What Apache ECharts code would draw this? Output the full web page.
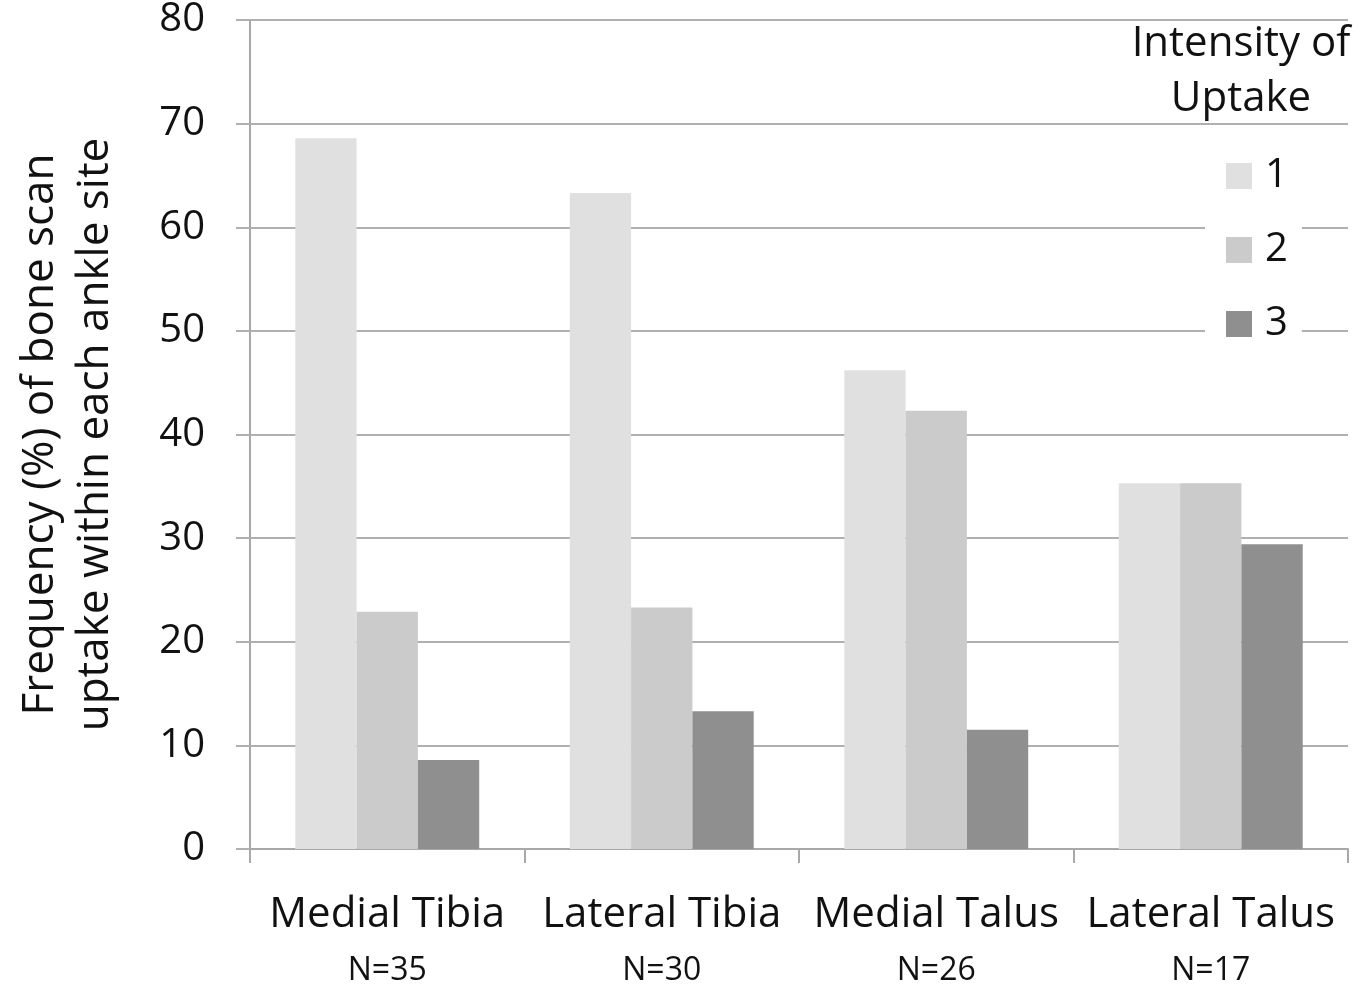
<!DOCTYPE html>
<html>
<head>
<meta charset="utf-8">
<script src="https://cdn.jsdelivr.net/npm/echarts@6/dist/echarts.min.js"></script>
<style>html,body{margin:0;padding:0;background:#fff;}#c{width:1371px;height:992px;}</style>
</head>
<body>
<div id="c"></div>
<script>
const sites = ['Medial Tibia', 'Lateral Tibia', 'Medial Talus', 'Lateral Talus'];
const sampleSizes = ['N=35', 'N=30', 'N=26', 'N=17'];
const seriesNames = ['1', '2', '3'];
const intensity1 = [68.6, 63.3, 46.2, 35.3];
const intensity2 = [22.9, 23.3, 42.3, 35.3];
const intensity3 = [8.6, 13.3, 11.5, 29.4];
const yTicks = [0, 10, 20, 30, 40, 50, 60, 70, 80];

const FONT = '"Open Sans", "Liberation Sans", sans-serif';
const colors = ['#e0e0e0', '#cbcbcb', '#8f8f8f'];
const values = [intensity1, intensity2, intensity3];

const chart = echarts.init(document.getElementById('c'));
chart.setOption({
  animation: false,
  backgroundColor: '#ffffff',
  textStyle: { fontFamily: FONT },
  grid: { left: 250, right: 23, top: 18, bottom: 143, containLabel: false },
  xAxis: {
    type: 'category',
    data: sites.map((s, i) => s + '\n' + sampleSizes[i]),
    axisLine: { lineStyle: { color: '#a8a8a8', width: 2 } },
    axisTick: { show: true, length: 14, alignWithLabel: false, lineStyle: { color: '#a8a8a8', width: 2 } },
    axisLabel: {
      margin: 38,
      interval: 0,
      formatter: function (v) {
        const p = v.split('\n');
        return '{a|' + p[0] + '}\n{b|' + p[1] + '}';
      },
      rich: {
        a: { fontSize: 42, color: '#111', fontFamily: FONT, lineHeight: 56 },
        b: { fontSize: 32, color: '#111', fontFamily: FONT, lineHeight: 56 }
      }
    }
  },
  yAxis: {
    type: 'value',
    min: yTicks[0],
    max: yTicks[yTicks.length - 1],
    interval: 10,
    name: 'Frequency (%) of bone scan\nuptake within each ankle site',
    nameLocation: 'middle',
    nameGap: 127,
    nameRotate: 90,
    nameTextStyle: { fontSize: 44, color: '#111', fontFamily: FONT, lineHeight: 55 },
    axisLine: { show: true, lineStyle: { color: '#a8a8a8', width: 2 } },
    axisTick: { show: true, length: 14, lineStyle: { color: '#b0b0b0', width: 2 } },
    axisLabel: { fontSize: 40, color: '#111', margin: 45, fontFamily: FONT },
    splitLine: { show: true, lineStyle: { color: '#b0b0b0', width: 2 } }
  },
  legend: {
    orient: 'vertical',
    left: 1205,
    top: 150,
    backgroundColor: '#ffffff',
    padding: [6, 14, 6, 21],
    itemWidth: 26,
    itemHeight: 26,
    itemGap: 34,
    icon: 'rect',
    data: seriesNames,
    textStyle: { fontSize: 40, color: '#111', fontFamily: FONT, padding: [0, 0, 0, 8], lineHeight: 40 }
  },
  graphic: [{
    type: 'text',
    x: 1241,
    y: 17,
    style: {
      text: 'Intensity of\nUptake',
      fontSize: 42,
      lineHeight: 55,
      fill: '#111',
      fontFamily: FONT,
      align: 'center',
      verticalAlign: 'top'
    }
  }],
  series: seriesNames.map((n, i) => ({
    name: n,
    type: 'bar',
    data: values[i],
    barGap: '0%',
    barCategoryGap: '33%',
    itemStyle: { color: colors[i] }
  }))
});
</script>
</body>
</html>
